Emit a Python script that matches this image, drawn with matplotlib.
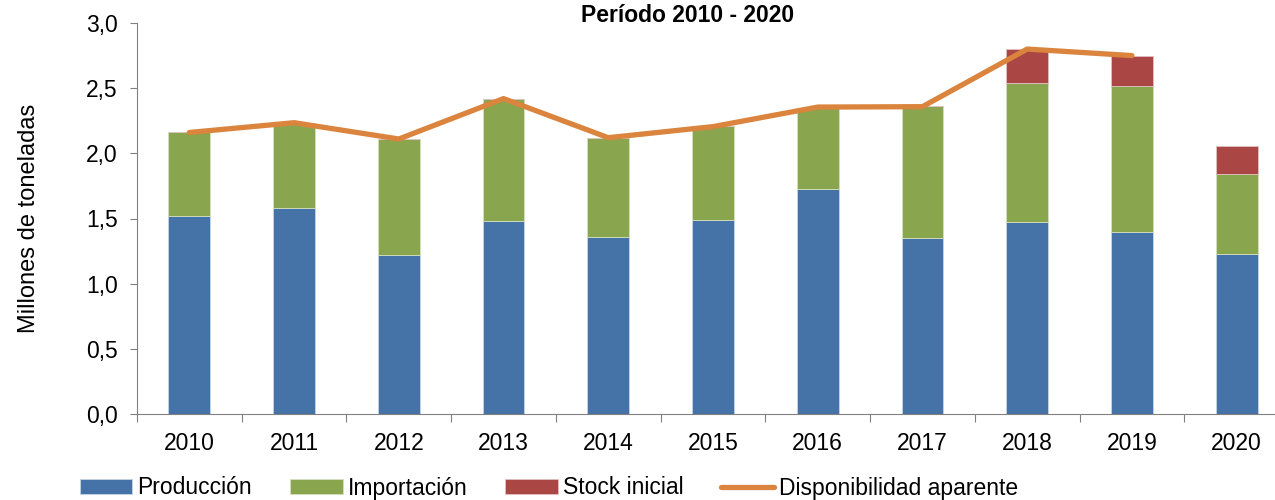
import matplotlib
matplotlib.use("Agg")
import matplotlib.pyplot as plt
import numpy as np

plt.rcParams['font.family'] = ['Liberation Sans', 'DejaVu Sans']

# datos (millones de toneladas)
anios = ['2010', '2011', '2012', '2013', '2014', '2015', '2016', '2017', '2018', '2019', '2020']
produccion = [1.52, 1.58, 1.22, 1.48, 1.36, 1.49, 1.73, 1.35, 1.47, 1.40, 1.23]
importacion = [0.64, 0.65, 0.89, 0.94, 0.76, 0.72, 0.62, 1.01, 1.07, 1.12, 0.61]
stock_inicial = [0, 0, 0, 0, 0, 0, 0, 0, 0.26, 0.23, 0.22]
disponibilidad = [2.16, 2.235, 2.11, 2.42, 2.12, 2.205, 2.355, 2.358, 2.80, 2.75, np.nan]

azul = '#4572A7'
verde = '#89A54E'
rojo = '#AA4643'
naranja = '#DB843D'
fs = 16.5

fig = plt.figure(figsize=(12.75, 5), dpi=100)
ax = fig.add_axes([137/1275, 1 - 414/500, (1289 - 137)/1275, (414 - 23)/500])

x = np.arange(len(anios))
base2 = np.array(produccion) + np.array(importacion)
b1 = ax.bar(x, produccion, 0.4, color=azul, edgecolor='#c8d4e6', linewidth=0.6, label='Producción')
b2 = ax.bar(x, importacion, 0.4, bottom=produccion, color=verde, edgecolor='#d4e0c0', linewidth=0.6, label='Importación')
b3 = ax.bar(x, stock_inicial, 0.4, bottom=base2, color=rojo, edgecolor='#e0c0c0', linewidth=0.6, label='Stock inicial')
l1, = ax.plot(x, disponibilidad, color=naranja, lw=3.8, solid_capstyle='round', label='Disponibilidad aparente')

ax.set_xlim(-0.5, 10.5)
ax.set_ylim(0, 3.0)
ax.set_yticks(np.arange(0, 3.01, 0.5))
ax.set_yticklabels([('%.1f' % v).replace('.', ',') for v in np.arange(0, 3.01, 0.5)])
ax.set_xticks(np.arange(-0.5, 10.6, 1))
ax.set_xticklabels([])
ax.set_xticks(x, minor=True)
ax.set_xticklabels(anios, minor=True)
ax.tick_params(axis='x', which='major', length=6, color='#808080', direction='out')
ax.tick_params(axis='x', which='minor', length=0, pad=13, labelsize=fs)
ax.tick_params(axis='y', length=5, color='#808080', labelsize=fs, pad=9)

for s in ['top', 'right']:
    ax.spines[s].set_visible(False)
for s in ['left', 'bottom']:
    ax.spines[s].set_color('#808080')

ax.set_ylabel('Millones de toneladas', fontsize=17, labelpad=33)
fig.text(688/1275, 1 - 15/500, 'Período 2010 - 2020', ha='center', va='center',
         fontsize=16.5, fontweight='bold')

fig.legend(handles=[b1, b2, b3, l1], loc='center', bbox_to_anchor=(549/1275, 1 - 488/500),
           ncol=4, frameon=False, fontsize=fs, handlelength=2.3, handleheight=0.6,
           handletextpad=0.22, columnspacing=1.65, borderaxespad=0)

fig.savefig('out.png', dpi=100)
